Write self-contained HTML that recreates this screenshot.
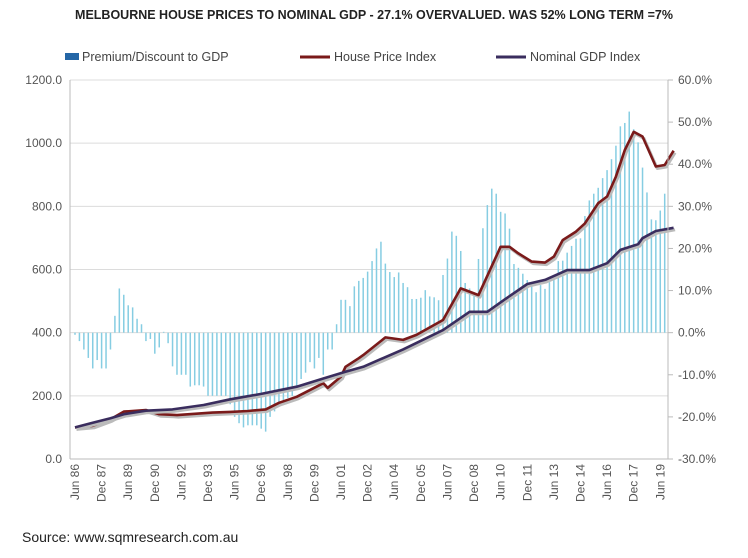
<!DOCTYPE html>
<html><head><meta charset="utf-8"><style>
body{margin:0;background:#fff;}
svg text{font-family:"Liberation Sans",sans-serif;}
</style></head><body>
<svg id="c" width="748" height="553" viewBox="0 0 748 553" xmlns="http://www.w3.org/2000/svg">
<text x="374" y="19" text-anchor="middle" font-size="12.5" font-weight="bold" fill="#222">MELBOURNE HOUSE PRICES TO NOMINAL GDP - 27.1% OVERVALUED. WAS 52% LONG TERM =7%</text>
<g>
<g><rect x="65" y="53" width="14" height="7" fill="#2466a6"/><text x="82" y="61" font-size="12.5" fill="#444">Premium/Discount to GDP</text></g>
<g><line x1="300" y1="57" x2="330" y2="57" stroke="#7a1a1a" stroke-width="3"/><text x="334" y="61" font-size="12.5" fill="#444">House Price Index</text></g>
<g><line x1="496" y1="57" x2="526" y2="57" stroke="#3a2d5e" stroke-width="3"/><text x="530" y="61" font-size="12.5" fill="#444">Nominal GDP Index</text></g>
</g>
<g id="grid"></g><g id="bars"></g><g id="lines"></g><g id="axes"></g>
<text x="22" y="542" font-size="14" fill="#222">Source: www.sqmresearch.com.au</text>
</svg>
<script>
const premium=[-0.5,-2,-4,-6,-8.5,-6.5,-8.5,-8.5,-4,4,10.5,9,6.5,6,3.3,2,-2,-1.5,-5,-3.5,0.2,-2.5,-8,-10,-10,-10,-12.8,-12.5,-12.5,-12.8,-15,-15,-15,-15,-15,-17,-20,-21.5,-22.5,-22,-22,-22,-22.8,-23.5,-20,-18.7,-17,-16,-15.5,-15,-13.5,-11,-9.5,-7,-8.5,-6,-10,-4,-4,2,7.8,7.8,6.3,11,12.3,13,14.5,17,20,21.6,16.4,14.4,13.2,14.3,11.8,10.8,8,8,8.3,10.1,8.6,8.4,7.7,13.7,17.6,24,23,19.4,11.8,10.5,9.6,17.5,24.8,30.3,34.2,33,28.7,28.3,24.7,16.3,15.4,14,12.5,11,9.6,11.3,10.4,12,13.7,17,17.1,19,20.6,22.3,22.4,27.7,31.4,33,34.4,36.7,38.6,41.2,44.4,49,49.8,52.5,48.3,45.2,39.2,33.3,26.9,26.7,29,33];
const hpiQ=[0,4,8,11,16,19,22,23,31,35,39,43,46,50,56,57,60,61,64,65,70,74,77,83,87,88,91,96,98,100,103,106,108,110,113,115,118,120,122,124,126,128,131,133,135];
const hpiVal=[100,105,126,150,155,142,140,139,147,149,152,157,178,197,240,225,261,292,319,329,385,377,393,440,540,535,519,672,672,651,625,622,641,693,720,746,810,831,894,978,1036,1021,926,931,976];
const gdpQ=[0,4,8,11,16,22,29,35,42,50,56,61,65,74,83,89,93,97,102,106,111,116,120,123,127,128,131,135];
const gdpVal=[100,115,129,142,153,157,171,189,206,229,255,276,292,347,408,466,466,506,554,567,598,598,620,662,680,699,722,732];
const leftTicks=[0,200,400,600,800,1000,1200];
const rightTicks=[-30,-20,-10,0,10,20,30,40,50,60];
const xLabels=["Jun 86","Dec 87","Jun 89","Dec 90","Jun 92","Dec 93","Jun 95","Dec 96","Jun 98","Dec 99","Jun 01","Dec 02","Jun 04","Dec 05","Jun 07","Dec 08","Jun 10","Dec 11","Jun 13","Dec 14","Jun 16","Dec 17","Jun 19"];

const NS="http://www.w3.org/2000/svg";
const L=70,R=668,T=80,B=459;
const n=premium.length;
const xs=i=>75+i*(589.7/(n-1));
const yL=v=>B-(v/1200)*(B-T);
const yR=p=>B-((p+30)/90)*(B-T);
function mk(tag,attrs,parent){const e=document.createElementNS(NS,tag);for(const k in attrs)e.setAttribute(k,attrs[k]);parent.appendChild(e);return e;}
const grid=document.getElementById('grid'),bars=document.getElementById('bars'),lines=document.getElementById('lines'),axes=document.getElementById('axes');
leftTicks.forEach(v=>{
  if(v>0){const g=mk('line',{x1:L,x2:R,y1:yL(v),y2:yL(v),stroke:'#dcdcdc','stroke-width':1},grid);
  
  }
  const t=mk('text',{x:62,y:yL(v)+4,'text-anchor':'end','font-size':12,fill:'#555'},axes);t.textContent=v.toFixed(1);
  
  
});
rightTicks.forEach(p=>{
  const tk=mk('line',{x1:R,x2:R+5,y1:yR(p),y2:yR(p),stroke:'#bbb'},axes);
  
  
  const t=mk('text',{x:678,y:yR(p)+4,'font-size':12,fill:'#555'},axes);t.textContent=p.toFixed(1)+'%';
  
  
});
premium.forEach((p,i)=>{
  const y0=yR(0),y1=yR(p);
  const b=mk('rect',{x:xs(i)-0.75,y:Math.min(y0,y1),width:1.5,height:Math.abs(y1-y0),fill:'#86cde2'},bars);
  
  
});
function path(q,v){return q.map((qq,k)=>(k?'L':'M')+xs(qq).toFixed(1)+','+yL(v[k]).toFixed(1)).join('');}
[[hpiQ,hpiVal,'#7a1a1a','house-price-line'],[gdpQ,gdpVal,'#3a2d5e','gdp-line']].forEach(([q,v,c,nm])=>{
  const s=mk('path',{d:path(q,v),fill:'none',stroke:'#bbb','stroke-width':3,transform:'translate(1.5,2)','stroke-linejoin':'round'},lines);
  
  
  const p=mk('path',{d:path(q,v),fill:'none',stroke:c,'stroke-width':2.6,'stroke-linejoin':'round'},lines);
  
  
});
const al=mk('line',{x1:L,x2:L,y1:T,y2:B,stroke:'#bbb'},axes);


const ar=mk('line',{x1:R,x2:R,y1:T,y2:B,stroke:'#bbb'},axes);


const ab=mk('line',{x1:L,x2:R,y1:B,y2:B,stroke:'#bbb'},axes);


xLabels.forEach((s,k)=>{
  const x=xs(k*6)+4;
  const t=mk('text',{x:x,y:464,'text-anchor':'end','font-size':12,fill:'#555',transform:`rotate(-90 ${x} 464)`},axes);t.textContent=s;
  
  
});
</script>
</body></html>
